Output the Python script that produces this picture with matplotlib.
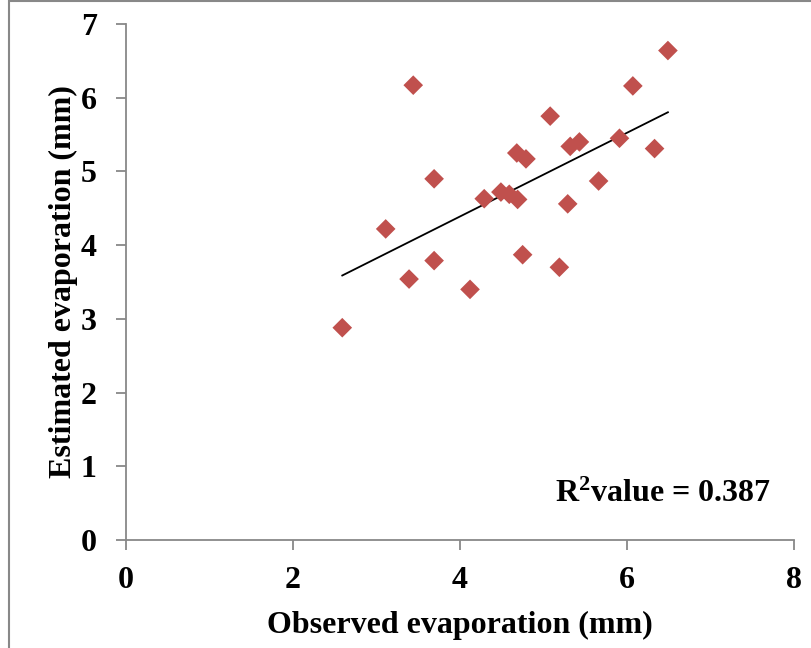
import matplotlib.pyplot as plt
import matplotlib.patches as patches
import numpy as np

# observed vs estimated evaporation (mm)
observed = [2.59, 3.11, 3.44, 3.39, 3.69, 3.69, 4.12, 4.29, 4.49, 4.59, 4.69, 4.68,
            4.79, 4.75, 5.08, 5.19, 5.29, 5.32, 5.43, 5.66, 5.91, 6.07, 6.33, 6.49]
estimated = [2.88, 4.22, 6.17, 3.54, 4.90, 3.79, 3.40, 4.63, 4.72, 4.69, 4.62, 5.25,
             5.17, 3.87, 5.75, 3.70, 4.56, 5.34, 5.40, 4.87, 5.45, 6.16, 5.31, 6.64]
r2_text = "R$^{2}$value = 0.387"

plt.rcParams['font.family'] = ['Liberation Serif', 'DejaVu Serif']
plt.rcParams['mathtext.fontset'] = 'custom'
plt.rcParams['mathtext.rm'] = 'Liberation Serif:bold'
plt.rcParams['mathtext.default'] = 'rm'

fig = plt.figure(figsize=(8.11, 6.48), dpi=100)
ax = fig.add_axes([126/811., 1 - 540/648., (794 - 126)/811., (540 - 24)/648.])

x = np.array(observed)
y = np.array(estimated)
ax.scatter(x, y, marker='D', s=100, color='#C0504D', edgecolors='none', zorder=3)

# linear trendline
k, b = np.polyfit(x, y, 1)
xs = np.array([x.min(), x.max()])
ax.plot(xs, k*xs + b, color='black', lw=1.3, zorder=2)

ax.set_xlim(0, 8)
ax.set_ylim(0, 7)
ax.set_xticks([0, 2, 4, 6, 8])
ax.set_yticks(range(0, 8))

for side in ['top', 'right']:
	ax.spines[side].set_visible(False)
for side in ['left', 'bottom']:
	ax.spines[side].set_color('#888888')
	ax.spines[side].set_linewidth(1.3)
ax.tick_params(direction='out', length=7, width=1.3, color='#888888',
	labelsize=23)
for lab in ax.get_xticklabels() + ax.get_yticklabels():
	lab.set_fontweight('bold')
ax.tick_params(axis='x', pad=12)
ax.tick_params(axis='y', pad=14)

ax.set_xlabel("Observed evaporation (mm)", fontsize=23, fontweight='bold', labelpad=11)
ax.set_ylabel("Estimated evaporation (mm)", fontsize=23, fontweight='bold', labelpad=2)

ax.text(6.43, 0.62, r2_text, fontsize=23, fontweight='bold', ha='center', va='center')

# chart area border
fig.patches.append(patches.Rectangle(
	(9/811., -0.1), 1.2, 1 - 1.5/648. + 0.1,
	transform=fig.transFigure, fill=False,
	edgecolor='#888888', lw=1.5
))

plt.savefig("out.png", dpi=100)
